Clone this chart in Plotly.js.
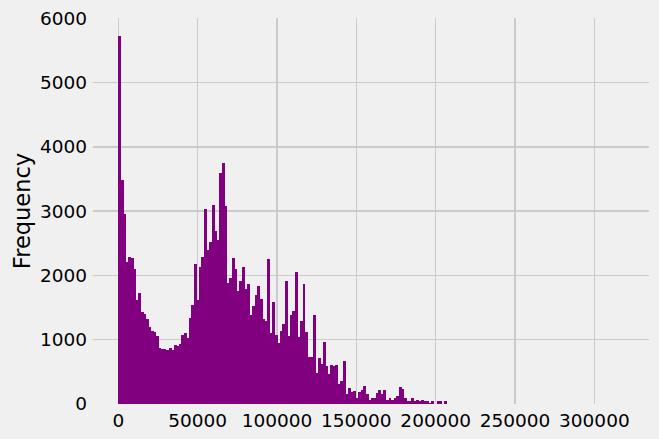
<!DOCTYPE html>
<html>
<head>
<meta charset="utf-8">
<script src="https://cdn.plot.ly/plotly-3.0.1.min.js"></script>
<style>
  html, body { margin: 0; padding: 0; background: #f0f0f0; }
  #chart { width: 659px; height: 439px; }
</style>
</head>
<body>
<div id="chart"></div>
<script>
// Histogram bins: first edge and bin width (data units)
const binStart = 0;
const binWidth = 1592.5;

// Frequency counts per bin (200 bins)
const counts = [
  5720, 3479, 2961, 2215, 2293, 2277, 2106, 1624, 1733, 1438,
  1407, 1329, 1205, 1143, 1127, 1065, 878, 863, 863, 847,
  878, 847, 925, 909, 940, 1080, 1111, 1034, 1345, 1547,
  2184, 1624, 2137, 2293, 3039, 2402, 2526, 3101, 2697, 2557,
  3599, 3754, 3086, 1889, 1966, 2277, 2106, 1764, 1920, 2137,
  1795, 1873, 1391, 1531, 1702, 1842, 1640, 1329, 1298, 2262,
  1111, 1593, 1080, 956, 1143, 1251, 1920, 1065, 1391, 1453,
  2060, 1049, 1298, 1873, 1127, 738, 738, 1391, 490, 723,
  630, 972, 598, 474, 614, 598, 614, 319, 365, 676,
  163, 256, 194, 210, 101, 194, 225, 287, 148, 70,
  101, 101, 179, 225, 148, 225, 55, 86, 55, 101,
  117, 272, 241, 86, 39, 39, 86, 54, 70, 54,
  70, 54, 39, 8, 39, 5, 54, 39, 5, 39,
  3, 2, 1, 2, 1, 1, 0, 1, 0, 1,
  0, 1, 0, 0, 1, 0, 0, 0, 1, 0,
  0, 0, 0, 0, 0, 0, 1, 0, 0, 0,
  0, 0, 0, 0, 0, 0, 0, 0, 0, 0,
  0, 0, 0, 0, 0, 0, 0, 0, 0, 0,
  0, 0, 0, 0, 0, 0, 0, 0, 0, 0,
  0, 0, 0, 0, 0, 0, 0, 0, 0, 1
];

// Axis ticks
const xTicks = [0, 50000, 100000, 150000, 200000, 250000, 300000];
const xTickLabels = ["0", "50000", "100000", "150000", "200000", "250000", "300000"];
const yTicks = [0, 1000, 2000, 3000, 4000, 5000, 6000];
const yTickLabels = ["0", "1000", "2000", "3000", "4000", "5000", "6000"];
const yLabel = "Frequency";

const centers = counts.map((_, i) => binStart + (i + 0.5) * binWidth);
const nBins = counts.length;
const dataMax = binStart + nBins * binWidth;
const span = dataMax - binStart;

const barColor = "#800080";

const trace = {
  type: "bar",
  x: centers,
  y: counts,
  // slightly overlapping bars so that no anti-aliasing seams show between bins
  width: counts.map(() => binWidth * 1.15),
  marker: { color: barColor, line: { width: 0 } },
  hoverinfo: "x+y"
};

const font = "DejaVu Sans, Liberation Sans, sans-serif";

const layout = {
  width: 659,
  height: 439,
  margin: { l: 93, r: 10, t: 18, b: 35, pad: 0 },
  paper_bgcolor: "#f0f0f0",
  plot_bgcolor: "#f0f0f0",
  bargap: 0,
  barmode: "overlay",
  showlegend: false,
  xaxis: {
    range: [binStart - 0.05 * span, dataMax + 0.05 * span],
    tickmode: "array",
    tickvals: xTicks,
    ticktext: xTickLabels,
    showgrid: true,
    gridcolor: "#cbcbcb",
    gridwidth: 1.5,
    zeroline: false,
    showline: false,
    ticks: "",
    ticklabelstandoff: 3,
    tickfont: { family: font, size: 18.5, color: "#000000" }
  },
  yaxis: {
    range: [0, 6006],
    tickmode: "array",
    tickvals: yTicks,
    ticktext: yTickLabels,
    showgrid: true,
    gridcolor: "#cbcbcb",
    gridwidth: 1.5,
    zeroline: false,
    showline: false,
    ticks: "",
    ticklabelstandoff: 5,
    tickfont: { family: font, size: 18.5, color: "#000000" },
    title: { text: yLabel, font: { family: font, size: 22.5, color: "#000000" }, standoff: 3 }
  }
};

Plotly.newPlot("chart", [trace], layout, { displayModeBar: false, staticPlot: true });
</script>
</body>
</html>
